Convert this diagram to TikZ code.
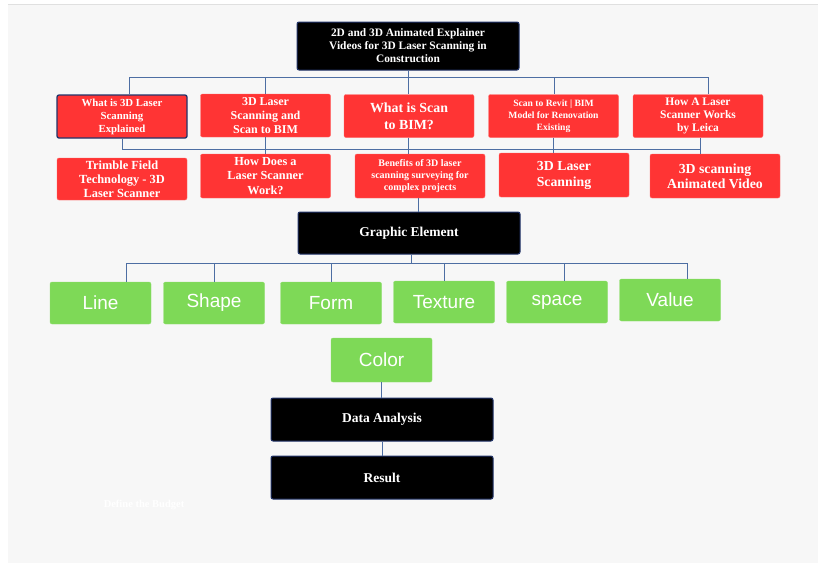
\documentclass[tikz,border=0pt]{standalone}
\usepackage{fontspec}
\setmainfont{Liberation Serif}
\setsansfont{Liberation Sans}
\definecolor{boxred}{HTML}{FF3434}
\definecolor{boxgreen}{HTML}{7ED957}
\definecolor{boxnavy}{HTML}{22346A}
\definecolor{linkblue}{HTML}{4D6EA3}
\definecolor{panel}{HTML}{F7F7F7}
\begin{document}
\begin{tikzpicture}[x=1pt,y=-1pt,
  redbox/.style={fill=boxred,draw=boxred!75!white,rounded corners=2pt,text=white,align=center,
    minimum width=130pt,minimum height=43pt,inner sep=1pt},
  darkbox/.style={fill=black,draw=boxnavy,line width=1pt,rounded corners=2pt,text=white,align=center,
    minimum width=222pt,minimum height=43pt,inner sep=1pt},
  greenbox/.style={fill=boxgreen,draw=boxgreen!85!white,rounded corners=2pt,text=white,
    font=\sffamily\fontsize{19}{22}\selectfont,minimum width=101pt,minimum height=42pt,inner sep=0pt},
  link/.style={draw=linkblue,line width=1pt}]
\useasboundingbox (0,0) rectangle (818,563);
\fill[white] (0,0) rectangle (818,563);
\fill[panel] (8,5) rectangle (818,563);
\draw[black!12] (8,4.5) -- (818,4.5);

\node[darkbox,minimum height=48pt,font=\bfseries\fontsize{11.4}{13}\selectfont] (top) at (408,46)
  {2D and 3D Animated Explainer\\Videos for 3D Laser Scanning in\\Construction};

\node[redbox,draw=boxnavy,line width=1.3pt,font=\bfseries\fontsize{10.8}{13}\selectfont] (r1a) at (122,116.5)
  {What is 3D Laser\\Scanning\\Explained};
\node[redbox,font=\bfseries\fontsize{12}{14}\selectfont] (r1b) at (265.5,115.5)
  {3D Laser\\Scanning and\\Scan to BIM};
\node[redbox,font=\bfseries\fontsize{13.9}{17}\selectfont] (r1c) at (409,116)
  {What is Scan\\to BIM?};
\node[redbox,font=\bfseries\fontsize{9.6}{12}\selectfont] (r1d) at (553.5,116)
  {Scan to Revit | BIM\\Model for Renovation\\Existing};
\node[redbox,font=\bfseries\fontsize{11.5}{13}\selectfont] (r1e) at (698,116)
  {How A Laser\\Scanner Works\\by Leica};

\node[redbox,minimum height=42pt,font=\bfseries\fontsize{12.4}{14}\selectfont] (r2a) at (122,179)
  {Trimble Field\\Technology - 3D\\Laser Scanner};
\node[redbox,minimum height=44pt,font=\bfseries\fontsize{12.3}{14.5}\selectfont] (r2b) at (265.5,176)
  {How Does a\\Laser Scanner\\Work?};
\node[redbox,minimum height=44pt,font=\bfseries\fontsize{10}{12}\selectfont] (r2c) at (420,176)
  {Benefits of 3D laser\\scanning surveying for\\complex projects};
\node[redbox,minimum height=44pt,font=\bfseries\fontsize{13.8}{16}\selectfont] (r2d) at (564,175)
  {3D Laser\\Scanning};
\node[redbox,minimum height=44pt,font=\bfseries\fontsize{13.8}{15}\selectfont] (r2e) at (715,176)
  {3D scanning\\Animated Video};

\node[darkbox,minimum height=42pt,font=\bfseries\fontsize{13.5}{15}\selectfont] (ge) at (409,233) {Graphic Element};

\node[greenbox] (line) at (100.5,303) {Line};
\node[greenbox] (shape) at (214,303) {Shape};
\node[greenbox] (form) at (331,303) {Form};
\node[greenbox] (texture) at (444,302) {Texture};
\node[greenbox] (space) at (557,302) {space};
\node[greenbox] (value) at (670,300) {Value};

\node[greenbox,minimum height=44pt] (color) at (381.5,360) {Color};

\node[darkbox,font=\bfseries\fontsize{13.5}{15}\selectfont] (da) at (382,419.5) {Data Analysis};
\node[darkbox,font=\bfseries\fontsize{13.5}{15}\selectfont] (res) at (382,477.5) {Result};

\node[text=white,font=\bfseries\fontsize{10.5}{12}\selectfont] (note) at (144,505) {Define the Budget};

\coordinate (bus1w) at (129,77);
\coordinate (bus1e) at (708,77);
\draw[link] (top.south) -- (top.south |- r1c.north);
\draw[link] (bus1w) -- (bus1e);
\draw[link] (bus1w) -- (bus1w |- r1a.north);
\draw[link] (r1b.north |- bus1w) -- (r1b.north);
\draw[link] ([xshift=0.5pt]r1d.north |- bus1w) -- ([xshift=0.5pt]r1d.north);
\draw[link] (bus1e) -- (bus1e |- r1e.north);

\coordinate (bus2w) at (122,149);
\coordinate (bus2e) at (700,149);
\draw[link] (bus2w) -- (bus2e);
\draw[link] (r1a.south) -- (r1a.south |- bus2w);
\draw[link] (r1b.south) -- (r1b.south |- r2b.north);
\draw[link] ([xshift=-1pt]r1c.south) -- ([xshift=-1pt]r1c.south |- r2c.north);
\draw[link] (r1d.south) -- (r1d.south |- r2d.north);
\draw[link] (bus2e |- r1e.south) -- (bus2e |- r2e.north);

\draw[link] ([xshift=-2pt]r2c.south) -- ([xshift=-2pt]r2c.south |- ge.north);

\coordinate (bus3w) at (126,263);
\coordinate (bus3e) at (687,263);
\draw[link] ([xshift=2pt]ge.south) -- ([xshift=2pt]ge.south |- bus3w);
\draw[link] (bus3w) -- (bus3e);
\draw[link] (bus3w) -- (bus3w |- line.north);
\draw[link] (shape.north |- bus3w) -- (shape.north);
\draw[link] (form.north |- bus3w) -- (form.north);
\draw[link] (texture.north |- bus3w) -- (texture.north);
\draw[link] ([xshift=7.5pt]space.north |- bus3w) -- ([xshift=7.5pt]space.north);
\draw[link] (bus3e) -- (bus3e |- value.north);

\draw[link] (color.south) -- (color.south |- da.north);
\draw[link] (da.south) -- (res.north);
\end{tikzpicture}
\end{document}
